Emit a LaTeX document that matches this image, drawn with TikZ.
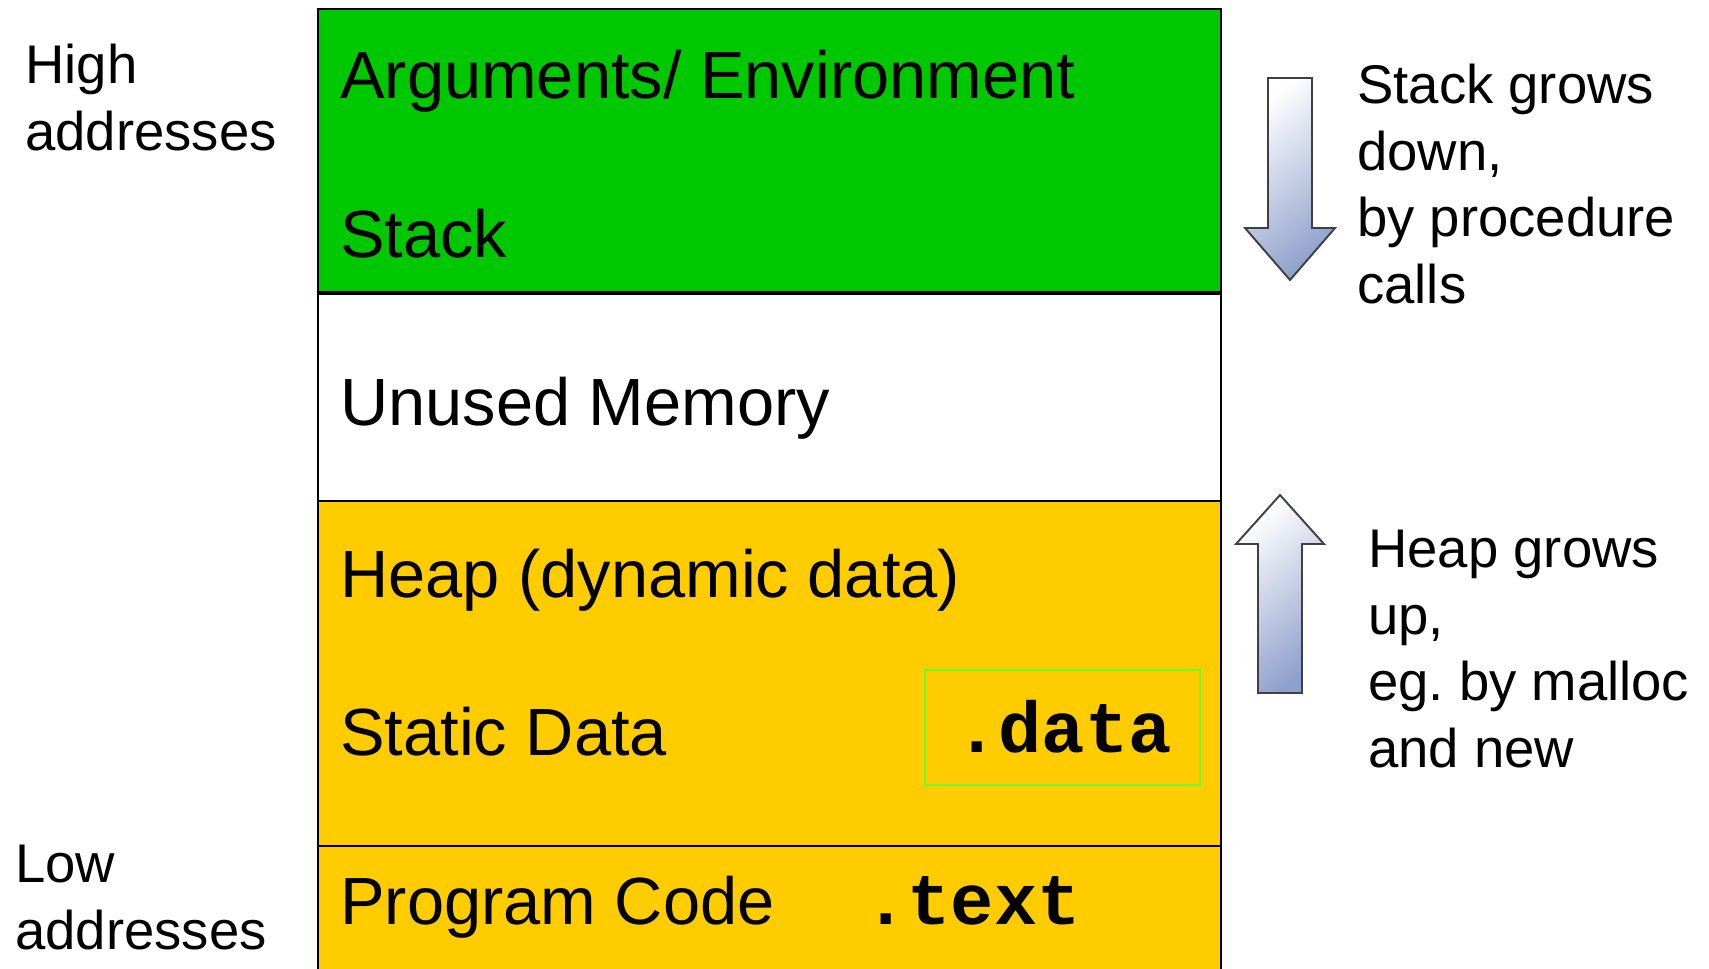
\documentclass[tikz,border=0pt]{standalone}
\usepackage{fontspec}
\setmainfont{Liberation Sans}
\newfontfamily\codefont{Liberation Mono}
\definecolor{stackgreen}{RGB}{0,200,0}
\definecolor{heaporange}{RGB}{255,204,0}
\definecolor{datagreen}{RGB}{102,255,51}
\definecolor{arrowblue}{RGB}{143,160,204}
\definecolor{arrowline}{RGB}{64,64,64}

\begin{document}
\begin{tikzpicture}[x=0.02cm,y=-0.02cm,
	side/.style={anchor=north west,inner sep=0pt,align=left,font=\fontsize{31pt}{37.8pt}\selectfont},
	seg/.style={anchor=base west,inner sep=0pt,font=\fontsize{38pt}{46pt}\selectfont},
	code/.style={anchor=base west,inner sep=0pt,font=\codefont\bfseries\fontsize{41pt}{48pt}\selectfont}]

\useasboundingbox (0,0) rectangle (1709,968);
\clip (0,0) rectangle (1709,968);

\def\xl{318}
\def\xr{1221}
\def\blockdown#1#2#3#4{
\shade[draw=arrowline,line width=1.1pt,top color=white,bottom color=arrowblue,shading angle=40]
	({#1-22},#2)--({#1+22},#2)--({#1+22},#3)--({#1+45},#3)--
	(#1,#4)--({#1-45},#3)--({#1-22},#3)--cycle;
}
\def\blockup#1#2#3#4{
\shade[draw=arrowline,line width=1.1pt,top color=white,bottom color=arrowblue,shading angle=40]
	({#1-22},#2)--({#1+22},#2)--({#1+22},#3)--({#1+44},#3)--
	(#1,#4)--({#1-44},#3)--({#1-22},#3)--cycle;
}

\fill[color=stackgreen] (\xl,9) rectangle (\xr,293);
\fill[color=white] (\xl,293) rectangle (\xr,501);
\fill[color=heaporange] (\xl,501) rectangle (\xr,990);

\draw[color=datagreen,line width=1.2pt] (925,670) rectangle (1200,785);

\draw[line width=1.9pt] (\xl,293)--(\xr,293);
\draw[line width=1.2pt] (\xl,501)--(\xr,501);
\draw[line width=1.5pt] (\xl,846)--(\xr,846);
\draw[line width=1.2pt] (\xl,990)--(\xl,9)--(\xr,9)--(\xr,990);

\node[seg] (args) at (340,98) {Arguments/ Environment};
\node[seg] (stack) at (340,257) {Stack};
\node[seg] (unused) at (340,425) {Unused Memory};
\node[seg] (heap) at (340,597) {Heap (dynamic data)};
\node[seg] (static) at (340,755) {Static Data};
\node[code] (data) at (955,752) {.data};
\node[seg] (progcode) at (340,924) {Program Code};
\node[code] (text) at (864,924) {.text};

\node[side] (high) at (25,44) {High\\addresses};
\node[side] (low) at (15,845) {Low\\addresses};

\blockdown{1290}{78}{228}{280}
\blockup{1280}{693}{544}{495}

\node[side] (stackgrows) at (1357,64) {Stack grows\\down,\\by procedure\\calls};
\node[side] (heapgrows) at (1368,530) {Heap grows\\up,\\eg.\ by malloc\\and new};

\end{tikzpicture}
\end{document}
